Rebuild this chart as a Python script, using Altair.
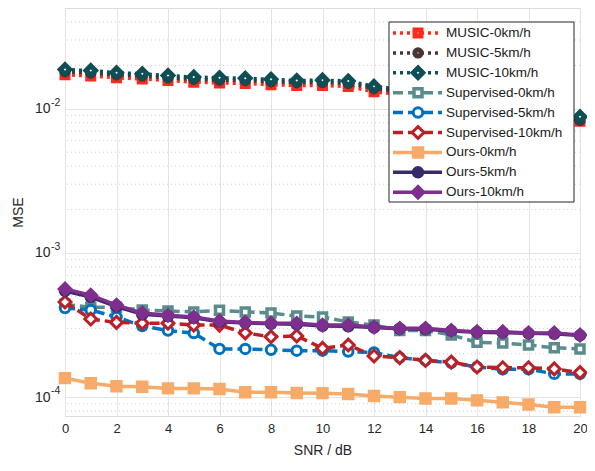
import altair as alt
import pandas as pd

snr = list(range(21))

music_0 = [0.0172, 0.0169, 0.0164, 0.0161, 0.0157, 0.0153, 0.0151, 0.0150, 0.0147, 0.0145, 0.0145,
           0.0143, 0.0131, 0.0126, 0.0120, 0.0112, 0.0104, 0.0096, 0.0089, 0.0084, 0.0082]
music_5 = [0.0181, 0.0177, 0.0172, 0.0169, 0.0164, 0.0160, 0.0158, 0.0157, 0.0154, 0.0152, 0.0152,
           0.0150, 0.0138, 0.0132, 0.0125, 0.0117, 0.0109, 0.0100, 0.0093, 0.0087, 0.0083]
music_10 = [0.0187, 0.0184, 0.0178, 0.0175, 0.0170, 0.0166, 0.0164, 0.0163, 0.0160, 0.0157, 0.0158,
            0.0156, 0.0143, 0.0137, 0.0130, 0.0122, 0.0113, 0.0104, 0.0097, 0.0091, 0.0088]
sup_0 = [4.4e-4, 4.2e-4, 4.2e-4, 4.02e-4, 3.96e-4, 3.9e-4, 4.0e-4, 3.9e-4, 3.83e-4, 3.65e-4, 3.6e-4,
         3.32e-4, 3.16e-4, 2.9e-4, 2.9e-4, 2.7e-4, 2.4e-4, 2.37e-4, 2.3e-4, 2.2e-4, 2.16e-4]
sup_5 = [4.15e-4, 4.02e-4, 3.6e-4, 3.11e-4, 2.9e-4, 2.78e-4, 2.16e-4, 2.16e-4, 2.13e-4, 2.1e-4, 2.1e-4,
         2.07e-4, 2.04e-4, 1.88e-4, 1.8e-4, 1.73e-4, 1.62e-4, 1.56e-4, 1.56e-4, 1.45e-4, 1.45e-4]
sup_10 = [4.57e-4, 3.48e-4, 3.3e-4, 3.26e-4, 3.26e-4, 3.16e-4, 3.16e-4, 2.79e-4, 2.62e-4, 2.66e-4, 2.18e-4,
          2.3e-4, 1.93e-4, 1.88e-4, 1.8e-4, 1.75e-4, 1.62e-4, 1.6e-4, 1.6e-4, 1.57e-4, 1.48e-4]
ours_0 = [1.355e-4, 1.25e-4, 1.19e-4, 1.18e-4, 1.15e-4, 1.15e-4, 1.14e-4, 1.08e-4, 1.08e-4, 1.07e-4, 1.066e-4,
          1.05e-4, 1.02e-4, 1.0e-4, 0.98e-4, 0.98e-4, 0.95e-4, 0.92e-4, 0.89e-4, 0.85e-4, 0.85e-4]
ours_5 = [5.45e-4, 4.95e-4, 4.25e-4, 3.75e-4, 3.65e-4, 3.55e-4, 3.33e-4, 3.27e-4, 3.23e-4, 3.2e-4, 3.12e-4,
          3.1e-4, 3.04e-4, 2.98e-4, 2.96e-4, 2.88e-4, 2.82e-4, 2.8e-4, 2.77e-4, 2.75e-4, 2.68e-4]
ours_10 = [5.62e-4, 5.1e-4, 4.35e-4, 3.83e-4, 3.7e-4, 3.59e-4, 3.37e-4, 3.3e-4, 3.26e-4, 3.25e-4, 3.16e-4,
           3.16e-4, 3.06e-4, 3.0e-4, 3.0e-4, 2.9e-4, 2.84e-4, 2.84e-4, 2.79e-4, 2.79e-4, 2.7e-4]

names = ["MUSIC-0km/h", "MUSIC-5km/h", "MUSIC-10km/h",
         "Supervised-0km/h", "Supervised-5km/h", "Supervised-10km/h",
         "Ours-0km/h", "Ours-5km/h", "Ours-10km/h"]
series = [music_0, music_5, music_10, sup_0, sup_5, sup_10, ours_0, ours_5, ours_10]

x_ticks = [0, 2, 4, 6, 8, 10, 12, 14, 16, 18, 20]
y_major = [1e-4, 1e-3, 1e-2]
y_exps = ["-4", "-3", "-2"]
y_minor = [8e-5, 9e-5, 2e-4, 3e-4, 4e-4, 5e-4, 6e-4, 7e-4, 8e-4, 9e-4,
           2e-3, 3e-3, 4e-3, 5e-3, 6e-3, 7e-3, 8e-3, 9e-3, 2e-2, 3e-2, 4e-2]

# styles
colors = ["#FF2A1D", "#4A3434", "#0D4F55", "#5A8C8B", "#0072BD", "#BB2026", "#F8AA68", "#372A6B", "#7E2F8E"]
dotted = [3, 4]
dashed = [10, 5]
dashes = [dotted, dotted, dotted, dashed, dashed, dashed, None, None, None]
shapes = ["square", "circle", "diamond", "square", "circle", "diamond", "square", "circle", "diamond"]
mfill = ["white", "white", "white", "white", "white", "white", None, None, None]
msizes = [36, 40, 90, 64, 90, 140, 120, 120, 190]
mstroke = [5, 5, 5, 3.5, 3, 3, 1.5, 1.5, 1.5]

FONT = "Liberation Sans"
TXT = "#262626"

xscale = alt.Scale(domain=[0, 20], nice=False, zero=False)
yscale = alt.Scale(type="log", domain=[7.4e-5, 0.05], nice=False)

xaxis = alt.Axis(values=x_ticks, title="SNR / dB", grid=True, gridColor="#E3E3E3", ticks=False,
                 domain=False, labelFontSize=13, labelFont=FONT, labelColor=TXT, labelPadding=6,
                 titleFont=FONT, titleFontSize=14, titleColor=TXT, titleFontWeight="normal",
                 titlePadding=8, labelFlush=False)
yaxis = alt.Axis(values=y_major, title="MSE", grid=True, gridColor="#E3E3E3", ticks=False,
                 domain=False, labelExpr="'10'", labelFontSize=14, labelFont=FONT, labelColor=TXT,
                 labelPadding=15, titleFont=FONT, titleFontSize=14, titleColor=TXT,
                 titleFontWeight="normal", titlePadding=9)

X = alt.X("snr:Q", scale=xscale, axis=xaxis)

layers = []

# minor grid (dotted)
minor_df = pd.DataFrame({"mse": y_minor})
layers.append(
    alt.Chart(minor_df).mark_rule(color="#CFCFCF", strokeDash=[1, 3], strokeWidth=1).encode(
        y=alt.Y("mse:Q", scale=yscale, axis=yaxis)
    )
)

# exponents for y labels
exp_df = pd.DataFrame({"mse": y_major, "e": y_exps})
layers.append(
    alt.Chart(exp_df).mark_text(align="left", baseline="middle", dy=-6, fontSize=10.5, font=FONT, color=TXT).encode(
        x=alt.value(-14),
        y=alt.Y("mse:Q", scale=yscale, axis=yaxis),
        text="e:N",
    )
)


def marker_kw(shp, ms, col, fillc, sw):
    return dict(shape=shp, size=ms, filled=True, opacity=1,
                fill=fillc if fillc else col, stroke=col, strokeWidth=sw)


for name, vals, col, dash, shp, fc, ms, sw in zip(names, series, colors, dashes, shapes, mfill, msizes, mstroke):
    df = pd.DataFrame({"snr": snr, "mse": vals, "series": name})
    lkw = dict(color=col, strokeWidth=3.5, strokeCap="butt")
    if dash:
        lkw["strokeDash"] = dash
    line = alt.Chart(df).mark_line(**lkw).encode(
        x=X, y=alt.Y("mse:Q", scale=yscale, axis=yaxis)
    )
    pts = alt.Chart(df).mark_point(**marker_kw(shp, ms, col, fc, sw)).encode(
        x=X, y=alt.Y("mse:Q", scale=yscale, axis=yaxis)
    )
    layers += [line, pts]

# legend
leg_box = alt.Chart(pd.DataFrame({"k": [0]})).mark_rect(fill="white", stroke="#262626", strokeWidth=1).encode(
    x=alt.value(324), x2=alt.value(509), y=alt.value(14), y2=alt.value(194)
)
layers.append(leg_box)
for i, (name, col, dash, shp, fc, ms, sw) in enumerate(zip(names, colors, dashes, shapes, mfill, msizes, mstroke)):
    ly = 25 + i * 19.9
    ldf = pd.DataFrame({"series": [name]})
    lkw = dict(color=col, strokeWidth=3.5, strokeCap="butt")
    if dash:
        lkw["strokeDash"] = dash
    layers.append(alt.Chart(ldf).mark_rule(**lkw).encode(
        x=alt.value(328), x2=alt.value(377), y=alt.value(ly)))
    layers.append(alt.Chart(ldf).mark_point(**marker_kw(shp, ms, col, fc, sw)).encode(
        x=alt.value(353), y=alt.value(ly)))
    layers.append(alt.Chart(ldf).mark_text(align="left", baseline="middle", fontSize=13.5, font=FONT,
                                           color="#1a1a1a").encode(
        x=alt.value(381), y=alt.value(ly), text="series:N"))

chart = alt.layer(*layers).properties(
    width=515, height=408,
    autosize=alt.AutoSizeParams(type="none"),
    padding={"left": 57, "top": 0, "right": 7, "bottom": 44},
).configure_view(stroke="#262626", strokeWidth=1).configure(background="white")

chart.save("out.html", embed_options={"renderer": "svg", "actions": False})
